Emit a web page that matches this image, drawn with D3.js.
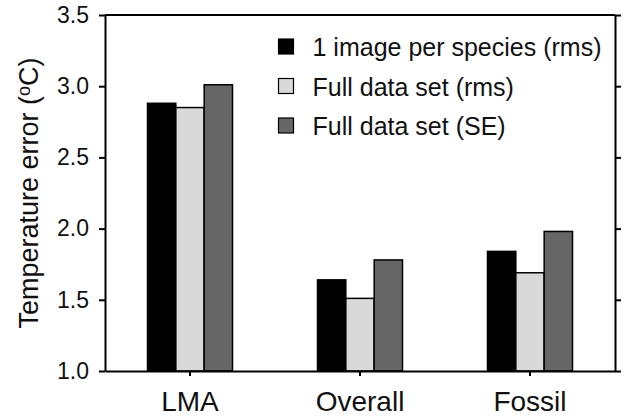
<!DOCTYPE html>
<html>
<head>
<meta charset="utf-8">
<script src="https://cdn.jsdelivr.net/npm/d3@7"></script>
<style>
  body { margin: 0; background: #fff; }
  svg { display: block; font-family: "Liberation Sans", Arial, sans-serif; }
  .axis path, .axis line { stroke: #000; stroke-width: 2; }
  .axis text { fill: #111; }
</style>
</head>
<body>
<div id="chart"></div>
<script>
// data
const categories = ["LMA", "Overall", "Fossil"];
const seriesNames = ["1 image per species (rms)", "Full data set (rms)", "Full data set (SE)"];
const seriesColors = ["#000000", "#d9d9d9", "#666666"];
const onePerSpecies = [2.88, 1.64, 1.84];
const fullRms = [2.85, 1.51, 1.69];
const fullSE = [3.01, 1.78, 1.98];
const yTicks = [1.0, 1.5, 2.0, 2.5, 3.0, 3.5];

const series = [onePerSpecies, fullRms, fullSE];

const dims = {
  width: 623, height: 417,
  marginTop: 15, marginRight: 8, marginBottom: 46, marginLeft: 105
};
dims.boundedWidth = dims.width - dims.marginLeft - dims.marginRight;
dims.boundedHeight = dims.height - dims.marginTop - dims.marginBottom;

const wrapper = d3.select("#chart")
  .append("svg")
    .attr("width", dims.width)
    .attr("height", dims.height);

const bounds = wrapper.append("g")
  .attr("transform", `translate(${dims.marginLeft}, ${dims.marginTop})`);

// scales
const xScale = d3.scaleBand()
  .domain(categories)
  .range([0, dims.boundedWidth])
  .paddingInner(0.5)
  .paddingOuter(0.25);

const subScale = d3.scaleBand()
  .domain(d3.range(series.length))
  .range([0, xScale.bandwidth()]);

const yScale = d3.scaleLinear()
  .domain([1.0, 3.5])
  .range([dims.boundedHeight, 0]);

// bars
series.forEach((vals, si) => {
  bounds.append("g")
    .selectAll("rect")
    .data(vals)
    .enter()
    .append("rect")
      .attr("x", (d, i) => xScale(categories[i]) + subScale(si))
      .attr("y", d => yScale(d))
      .attr("width", subScale.bandwidth())
      .attr("height", d => yScale(1.0) - yScale(d))
      .attr("fill", seriesColors[si])
      .attr("stroke", "#000")
      .attr("stroke-width", 1.5);
});

// axes
const yAxis = bounds.append("g")
  .attr("class", "axis")
  .call(d3.axisLeft(yScale)
    .tickValues(yTicks)
    .tickFormat(d3.format(".1f"))
    .tickSize(6)
    .tickSizeOuter(0)
    .tickPadding(10));
yAxis.selectAll("text").style("font-size", "23px");

const yAxisRight = bounds.append("g")
  .attr("class", "axis")
  .attr("transform", `translate(${dims.boundedWidth}, 0)`)
  .call(d3.axisRight(yScale)
    .tickValues(yTicks)
    .tickFormat(() => "")
    .tickSize(6)
    .tickSizeOuter(0));

const xAxis = bounds.append("g")
  .attr("class", "axis")
  .attr("transform", `translate(0, ${dims.boundedHeight})`)
  .call(d3.axisBottom(xScale)
    .tickSize(5)
    .tickSizeOuter(0)
    .tickPadding(15));
xAxis.selectAll("text").style("font-size", "28px");

// top border
bounds.append("line")
  .attr("x1", 0).attr("x2", dims.boundedWidth)
  .attr("y1", 0).attr("y2", 0)
  .attr("stroke", "#000").attr("stroke-width", 2);

// y title
const title = wrapper.append("text")
  .attr("transform", `translate(38, ${dims.marginTop + dims.boundedHeight / 2}) rotate(-90)`)
  .attr("text-anchor", "middle")
  .style("font-size", "27px")
  .attr("fill", "#111");
title.append("tspan").text("Temperature error (");
title.append("tspan").text("o").style("font-size", "18px").attr("dy", "-8");
title.append("tspan").text("C)").attr("dy", "8");

// legend
const legend = bounds.append("g")
  .attr("transform", `translate(${xScale("Overall") - 39}, 32)`);

seriesNames.forEach((name, i) => {
  const row = legend.append("g")
    .attr("transform", `translate(0, ${i * 39.5})`);
  row.append("rect")
    .attr("x", 0).attr("y", -8)
    .attr("width", 15).attr("height", 15)
    .attr("fill", seriesColors[i])
    .attr("stroke", "#000")
    .attr("stroke-width", 1.2);
  row.append("text")
    .attr("x", 34)
    .attr("dy", "0.36em")
    .style("font-size", "25px")
    .attr("fill", "#111")
    .text(name);
});
</script>
</body>
</html>
